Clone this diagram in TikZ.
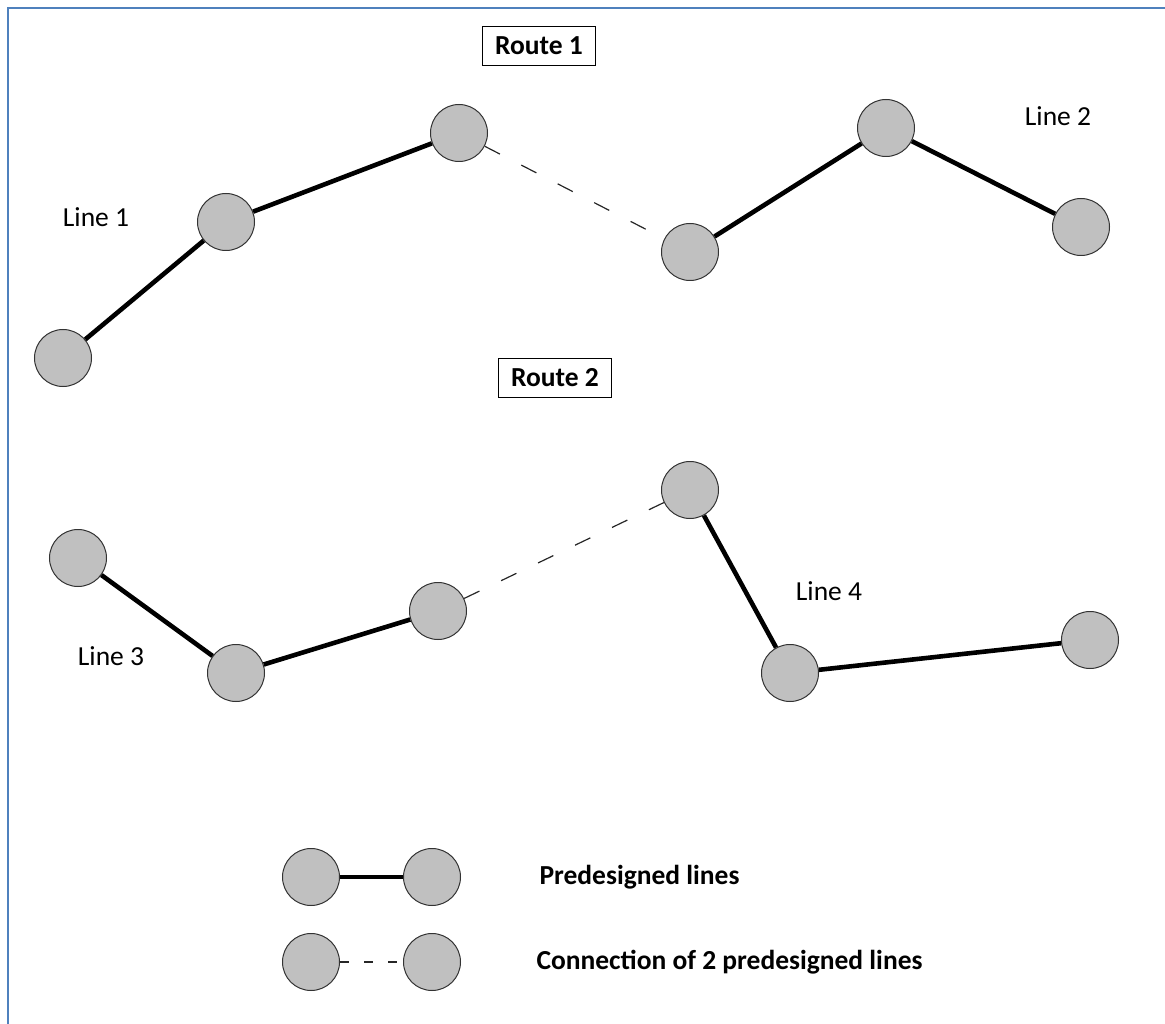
\documentclass[tikz,border=0pt]{standalone}
\usepackage{fontspec}
\setmainfont{Carlito}
\definecolor{nodegray}{HTML}{C0C0C0}
\definecolor{framblue}{HTML}{4F81BD}
\tikzset{
  stop/.style={circle, draw=black!80, line width=1pt, fill=nodegray, minimum size=57pt, inner sep=0pt},
  predes/.style={line width=4.6pt, black},
  conn/.style={line width=1.2pt, black!85, dash pattern=on 17pt off 24pt},
  legconn/.style={line width=1.2pt, black!85, dash pattern=on 9pt off 15pt},
  lbl/.style={font=\fontsize{27.5}{32}\selectfont, text=black},
  routebox/.style={draw, line width=1.5pt, minimum width=113pt, minimum height=39pt, inner sep=0pt, font=\fontsize{27.5}{32}\selectfont\bfseries},
  legtxt/.style={font=\fontsize{27.5}{32}\selectfont\bfseries, anchor=west}
}
\begin{document}
\begin{tikzpicture}[x=1pt,y=-1pt]
\useasboundingbox (0,0) rectangle (1165,1024);
\coordinate (fa) at (8,1024);
\coordinate (fb) at (8,8);
\coordinate (fc) at (1165,8);
\draw[framblue, line width=2.6pt] (fa) -- (fb) -- (fc);

% Route 1
\node[routebox] (r1) at (539,46) {Route 1};
\node[stop] (a1) at (63,358) {};
\node[stop] (a2) at (226,222) {};
\node[stop] (a3) at (459,133) {};
\node[stop] (a4) at (690,252) {};
\node[stop] (a5) at (886,128) {};
\node[stop] (a6) at (1081,227) {};
\node[lbl] (l1) at (96,217) {Line 1};
\node[lbl] (l2) at (1058,116) {Line 2};
\draw[predes] (a1) -- (a2) -- (a3);
\draw[conn] (a3) -- (a4);
\draw[predes] (a4) -- (a5) -- (a6);

% Route 2
\node[routebox] (r2) at (555,378) {Route 2};
\node[stop] (b1) at (78,558) {};
\node[stop] (b2) at (236,673) {};
\node[stop] (b3) at (438,611) {};
\node[stop] (b4) at (690,490) {};
\node[stop] (b5) at (790,673) {};
\node[stop] (b6) at (1090,640) {};
\node[lbl] (l3) at (111,656) {Line 3};
\node[lbl] (l4) at (829,591) {Line 4};
\draw[predes] (b1) -- (b2) -- (b3);
\draw[conn] (b3) -- (b4);
\draw[predes] (b4) -- (b5) -- (b6);

% Legend
\node[stop] (p1) at (311,877) {};
\node[stop] (p2) at (432,877) {};
\node[stop] (q1) at (311,962) {};
\node[stop] (q2) at (432,962) {};
\draw[predes] (p1) -- (p2);
\draw[legconn] (q1) -- (q2);
\node[legtxt] (t1) at (536,877) {Predesigned lines};
\node[legtxt] (t2) at (533,962) {Connection of 2 predesigned lines};
\end{tikzpicture}
\end{document}
